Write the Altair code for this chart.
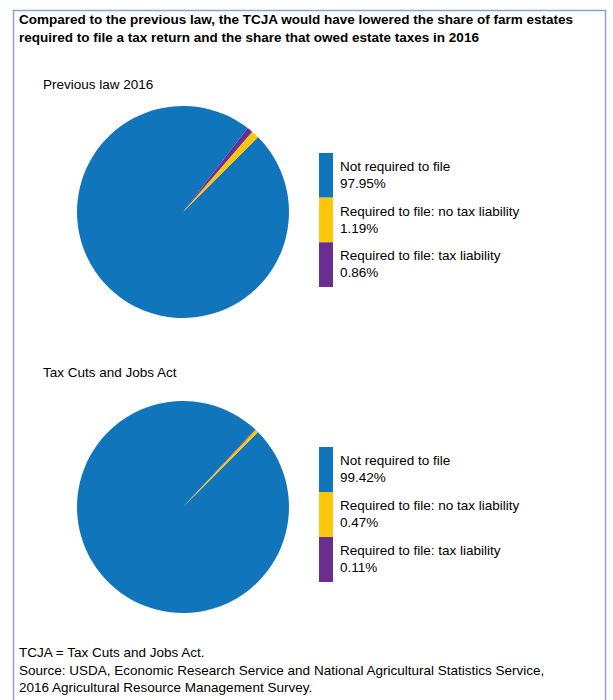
import math
import pandas as pd
import altair as alt

# ---- data ----
categories = [
    "Not required to file",
    "Required to file: no tax liability",
    "Required to file: tax liability",
]
prev_values = [97.95, 1.19, 0.86]
tcja_values = [99.42, 0.47, 0.11]
slice_order = [0, 2, 1]
colors = ["#1075bb", "#fcc70b", "#6a2d90"]

title_lines = [
    "Compared to the previous law, the TCJA would have lowered the share of farm estates",
    "required to file a tax return and the share that owed estate taxes in 2016",
]
panel_titles = ["Previous law 2016", "Tax Cuts and Jobs Act"]
note_lines = [
    "TCJA = Tax Cuts and Jobs Act.",
    "Source: USDA, Economic Research Service and National Agricultural Statistics Service,",
    "2016 Agricultural Resource Management Survey.",
]

FONT = "Liberation Sans"
FS = 13.5
START = math.pi / 4


def make_df(values):
    return pd.DataFrame({
        "cat": categories,
        "value": values,
        "ord": slice_order,
        "label": [f"{c}\n{v:.2f}%" for c, v in zip(categories, values)],
    })


color_enc = alt.Color("cat:N", scale=alt.Scale(domain=categories, range=colors), legend=None)


def pie(df, cx, cy):
    return alt.Chart(df).mark_arc(outerRadius=106).encode(
        theta=alt.Theta("value:Q", stack=True,
                        scale=alt.Scale(domain=[0, 100], range=[START, START + 2 * math.pi])),
        color=color_enc,
        order=alt.Order("ord:Q"),
        x=alt.value(cx),
        y=alt.value(cy),
    )


def legend(df, y0, y1):
    yenc = alt.Y("cat:N", axis=None,
                 scale=alt.Scale(domain=categories, range=[y0, y1], paddingInner=0, paddingOuter=0))
    rect = alt.Chart(df).mark_rect().encode(
        y=yenc, x=alt.value(319), x2=alt.value(333), color=color_enc)
    text = alt.Chart(df).mark_text(
        align="left", baseline="middle", lineBreak="\n", fontSize=FS, lineHeight=17,
        font=FONT, color="black", dy=-8.5).encode(y=yenc, x=alt.value(340), text="label:N")
    return alt.layer(rect, text)


def note(lines, x, y, bold=False, lh=17.5):
    df = pd.DataFrame({"t": ["\n".join(lines)]})
    return alt.Chart(df).mark_text(
        align="left", baseline="middle", lineBreak="\n", fontSize=FS, lineHeight=lh,
        font=FONT, color="black", fontWeight="bold" if bold else "normal",
    ).encode(x=alt.value(x), y=alt.value(y), text="t:N")


frame = alt.Chart(pd.DataFrame({"a": [0]})).mark_rect(
    fillOpacity=0, stroke="#86a3d4", strokeWidth=1.5).encode(
    x=alt.value(13.5), x2=alt.value(605.5), y=alt.value(10.5), y2=alt.value(730))

df1 = make_df(prev_values)
df2 = make_df(tcja_values)

chart = alt.layer(
    frame,
    note(title_lines, 19, 20, bold=True),
    note([panel_titles[0]], 43, 85),
    pie(df1, 183, 212),
    legend(df1, 153, 287),
    note([panel_titles[1]], 43, 373),
    pie(df2, 183, 507),
    legend(df2, 447, 582),
    note(note_lines, 19, 653),
).resolve_scale(y="independent").properties(
    width=613, height=700, padding=0,
    autosize=alt.AutoSizeParams(type="none"),
).configure_view(stroke=None)

chart.save("out.html", embed_options={"renderer": "svg", "actions": False})
